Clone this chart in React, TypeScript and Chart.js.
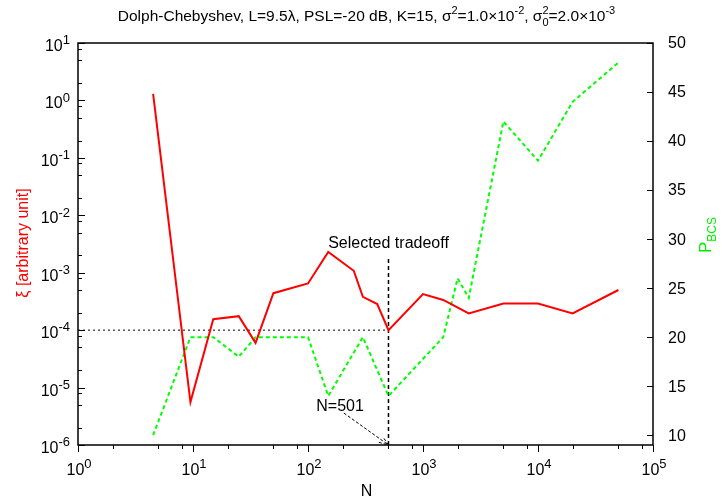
import React, { useEffect, useRef } from "react";
import { Chart, registerables } from "chart.js";

Chart.register(...registerables);

// Array size N per series
const redN = [4.5, 9.5, 15, 25, 35, 50, 100, 150, 250, 300, 400, 501, 1000, 1500, 2500, 5000, 10000, 20000, 50000];
// xi [arbitrary unit] (left log axis)
const redXi = [1.3, 5.6e-6, 1.55e-4, 1.75e-4, 6.0e-5, 4.4e-4, 6.5e-4, 2.3e-3, 1.08e-3, 3.8e-4, 2.85e-4, 1.0e-4, 4.25e-4, 3.35e-4, 1.95e-4, 2.9e-4, 2.9e-4, 1.95e-4, 5.0e-4];

const greenN = [4.5, 9.5, 15, 25, 35, 100, 150, 300, 501, 1500, 2000, 2500, 5000, 10000, 20000, 50000];
// P_BCS (right linear axis)
const greenP = [10, 20, 20, 18, 20, 20, 14, 20, 14, 20, 26, 24, 42, 38, 44, 48];

const xDecades = [0, 1, 2, 3, 4, 5];
const yDecades = [-6, -5, -4, -3, -2, -1, 0, 1];
const rightTicks = [10, 15, 20, 25, 30, 35, 40, 45, 50];
const minorMultipliers = [2, 5, 8];

const FONT = '"Liberation Sans", Arial, sans-serif';

type Part = { t: string; k?: "sup" | "sub"; sub?: string; sup?: string };

function partWidth(ctx: CanvasRenderingContext2D, p: Part, size: number, small: number) {
  if (p.sub !== undefined || p.sup !== undefined) {
    ctx.font = `${small}px ${FONT}`;
    return Math.max(ctx.measureText(p.sub || "").width, ctx.measureText(p.sup || "").width);
  }
  ctx.font = `${p.k ? small : size}px ${FONT}`;
  return ctx.measureText(p.t).width;
}

// Draws text with super/subscripts, anchored at x, baseline y
function drawRich(
  ctx: CanvasRenderingContext2D,
  parts: Part[],
  x: number,
  y: number,
  size: number,
  small: number,
  align: "left" | "center" | "right" = "left"
) {
  const total = parts.reduce((s, p) => s + partWidth(ctx, p, size, small), 0);
  let cx = align === "left" ? x : align === "center" ? x - total / 2 : x - total;
  ctx.textAlign = "left";
  ctx.textBaseline = "alphabetic";
  const rise = size * 0.42;
  const drop = size * 0.3;
  for (const p of parts) {
    const w = partWidth(ctx, p, size, small);
    if (p.sub !== undefined || p.sup !== undefined) {
      ctx.font = `${small}px ${FONT}`;
      if (p.sup) ctx.fillText(p.sup, cx, y - rise);
      if (p.sub) ctx.fillText(p.sub, cx, y + drop);
    } else if (p.k === "sup") {
      ctx.font = `${small}px ${FONT}`;
      ctx.fillText(p.t, cx, y - rise);
    } else if (p.k === "sub") {
      ctx.font = `${small}px ${FONT}`;
      ctx.fillText(p.t, cx, y + drop);
    } else {
      ctx.font = `${size}px ${FONT}`;
      ctx.fillText(p.t, cx, y);
    }
    cx += w;
  }
  return total;
}

const titleParts: Part[] = [
  { t: "Dolph-Chebyshev, L=9.5\u03bb, PSL=-20 dB, K=15, \u03c3" },
  { t: "2", k: "sup" },
  { t: "=1.0\u00d710" },
  { t: "-2", k: "sup" },
  { t: ", \u03c3" },
  { t: "", sub: "0", sup: "2" },
  { t: "=2.0\u00d710" },
  { t: "-3", k: "sup" },
];

const decorations = {
  id: "decorations",
  beforeDatasetsDraw(chart: any) {
    const { ctx, scales } = chart;
    const { x, y } = scales;
    const { left, bottom } = chart.chartArea;
    ctx.save();
    // threshold line at xi = 1e-4 up to the selected N
    ctx.strokeStyle = "#000";
    ctx.lineWidth = 1;
    ctx.setLineDash([2, 3]);
    ctx.beginPath();
    ctx.moveTo(left, y.getPixelForValue(1e-4));
    ctx.lineTo(x.getPixelForValue(501), y.getPixelForValue(1e-4));
    ctx.stroke();
    // selected tradeoff marker
    ctx.lineWidth = 1.5;
    ctx.setLineDash([4, 3]);
    ctx.beginPath();
    ctx.moveTo(x.getPixelForValue(501), bottom);
    ctx.lineTo(x.getPixelForValue(501), y.getPixelForValue(1.9e-3));
    ctx.stroke();
    ctx.restore();
  },
  afterDraw(chart: any) {
    const { ctx, scales } = chart;
    const { x, y, y1 } = scales;
    const { left, right, top, bottom } = chart.chartArea;
    ctx.save();
    ctx.fillStyle = "#000";
    ctx.strokeStyle = "#000";

    // frame
    ctx.lineWidth = 1.5;
    ctx.setLineDash([]);
    ctx.strokeRect(left, top, right - left, bottom - top);

    // x ticks (outward)
    ctx.lineWidth = 1;
    for (const d of xDecades) {
      const px = Math.round(x.getPixelForValue(Math.pow(10, d))) + 0.5;
      ctx.beginPath();
      ctx.moveTo(px, bottom);
      ctx.lineTo(px, bottom + 7);
      ctx.stroke();
      if (d < 5) {
        for (const m of minorMultipliers) {
          const mx = Math.round(x.getPixelForValue(m * Math.pow(10, d))) + 0.5;
          ctx.beginPath();
          ctx.moveTo(mx, bottom);
          ctx.lineTo(mx, bottom + 4);
          ctx.stroke();
        }
      }
      ctx.fillStyle = "#000";
      const parts: Part[] = [{ t: "10" }, { t: String(d), k: "sup" }];
      drawRich(ctx, parts, x.getPixelForValue(Math.pow(10, d)) + 1, bottom + 30, 16, 13, "center");
    }

    // left ticks (inward)
    for (const d of yDecades) {
      const py = Math.round(y.getPixelForValue(Math.pow(10, d))) + 0.5;
      ctx.beginPath();
      ctx.moveTo(left, py);
      ctx.lineTo(left + 7, py);
      ctx.stroke();
      if (d < 1) {
        for (const m of minorMultipliers) {
          const my = Math.round(y.getPixelForValue(m * Math.pow(10, d))) + 0.5;
          ctx.beginPath();
          ctx.moveTo(left, my);
          ctx.lineTo(left + 4, my);
          ctx.stroke();
        }
      }
      const parts: Part[] = [{ t: "10" }, { t: String(d), k: "sup" }];
      drawRich(ctx, parts, left - 8, y.getPixelForValue(Math.pow(10, d)) + 8, 16, 13, "right");
    }

    // right ticks (inward)
    ctx.font = `16px ${FONT}`;
    ctx.textAlign = "left";
    ctx.textBaseline = "middle";
    for (const v of rightTicks) {
      const py = Math.round(y1.getPixelForValue(v)) + 0.5;
      ctx.beginPath();
      ctx.moveTo(right, py);
      ctx.lineTo(right - 6, py);
      ctx.stroke();
      ctx.fillText(String(v), right + 15, y1.getPixelForValue(v) + 1);
    }

    // title
    drawRich(ctx, titleParts, (left + right) / 2 + 1, 21, 15.5, 11, "center");

    // x axis title
    ctx.font = `16px ${FONT}`;
    ctx.textAlign = "center";
    ctx.textBaseline = "alphabetic";
    ctx.fillText("N", (left + right) / 2 + 1, 496);

    // left axis title
    ctx.save();
    ctx.translate(28, 243);
    ctx.rotate(-Math.PI / 2);
    ctx.fillStyle = "#ff0000";
    ctx.font = `16px ${FONT}`;
    ctx.textAlign = "center";
    ctx.fillText("\u03be [arbitrary unit]", 0, 0);
    ctx.restore();

    // right axis title
    ctx.save();
    ctx.translate(711, 235);
    ctx.rotate(-Math.PI / 2);
    ctx.fillStyle = "#00ee00";
    drawRich(ctx, [{ t: "P" }, { t: "BCS", k: "sub" }], 0, 0, 17, 12, "center");
    ctx.restore();

    // annotation text
    ctx.fillStyle = "#000";
    ctx.font = `16px ${FONT}`;
    ctx.textAlign = "center";
    ctx.textBaseline = "alphabetic";
    ctx.fillText("Selected tradeoff", x.getPixelForValue(501), y.getPixelForValue(3.4e-3) + 6);
    ctx.fillText("N=501", x.getPixelForValue(190), y.getPixelForValue(4.9e-6) + 6);

    // arrow from label to the selected N on the axis
    const ax0 = x.getPixelForValue(205);
    const ay0 = y.getPixelForValue(3.6e-6);
    const ax1 = x.getPixelForValue(501);
    const ay1 = y.getPixelForValue(1e-6);
    ctx.lineWidth = 1;
    ctx.setLineDash([3, 2]);
    ctx.beginPath();
    ctx.moveTo(ax0, ay0);
    ctx.lineTo(ax1, ay1);
    ctx.stroke();
    const ang = Math.atan2(ay1 - ay0, ax1 - ax0);
    const hl = 10;
    ctx.beginPath();
    ctx.moveTo(ax1 - hl * Math.cos(ang - 0.35), ay1 - hl * Math.sin(ang - 0.35));
    ctx.lineTo(ax1, ay1);
    ctx.lineTo(ax1 - hl * Math.cos(ang + 0.35), ay1 - hl * Math.sin(ang + 0.35));
    ctx.stroke();
    ctx.restore();
  },
};

export default function App() {
  const ref = useRef<HTMLCanvasElement | null>(null);
  useEffect(() => {
    if (!ref.current) return;
    const chart = new Chart(ref.current, {
      type: "line",
      data: {
        datasets: [
          {
            label: "xi",
            data: redN.map((n, i) => ({ x: n, y: redXi[i] })),
            borderColor: "#ff0000",
            borderWidth: 2,
            pointRadius: 0,
            tension: 0,
            yAxisID: "y",
            order: 0,
          },
          {
            label: "P_BCS",
            data: greenN.map((n, i) => ({ x: n, y: greenP[i] })),
            borderColor: "#00ff00",
            borderWidth: 2,
            borderDash: [4, 3],
            pointRadius: 0,
            tension: 0,
            yAxisID: "y1",
            order: 1,
          },
        ],
      },
      options: {
        responsive: false,
        animation: false,
        devicePixelRatio: 1,
        layout: { padding: { left: 78, right: 69, top: 43, bottom: 56 } },
        plugins: { legend: { display: false }, tooltip: { enabled: false } },
        scales: {
          x: { type: "logarithmic", min: 1, max: 1e5, display: false },
          y: { type: "logarithmic", min: 1e-6, max: 10, display: false },
          y1: { type: "linear", min: 9, max: 50, display: false, position: "right" },
        },
      },
      plugins: [decorations],
    });
    return () => chart.destroy();
  }, []);
  return (
    <div style={{ position: "absolute", left: 0, top: 0, width: 722, height: 501, background: "#fff" }}>
      <canvas ref={ref} width={722} height={501} style={{ display: "block" }} />
    </div>
  );
}
